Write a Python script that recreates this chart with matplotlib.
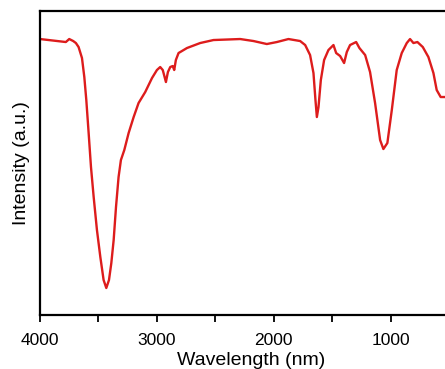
import numpy as np
import matplotlib.pyplot as plt

plt.rcParams['font.family'] = ['Liberation Sans', 'DejaVu Sans']

# spectrum (wavenumber, relative intensity)
wavenumber = [4000, 3779, 3750, 3716, 3693, 3670, 3641, 3621, 3604, 3584,
              3564, 3541, 3513, 3484, 3456, 3433, 3410, 3390, 3370, 3350,
              3328, 3308, 3279, 3242, 3199, 3157, 3100, 3042, 3000, 2972,
              2950, 2923, 2906, 2886, 2865, 2852, 2838, 2815, 2743, 2630,
              2516, 2288, 2174, 2060, 1974, 1875, 1775, 1732, 1690, 1661,
              1644, 1632, 1618, 1598, 1570, 1533, 1490, 1467, 1433, 1399,
              1376, 1348, 1296, 1268, 1219, 1177, 1134, 1091, 1063, 1029,
              991, 949, 906, 863, 835, 806, 772, 726, 678, 635,
              607, 573, 536]
intensity = [276, 273, 276, 274, 272, 268, 257, 238, 215, 182,
             148, 118, 85, 58, 35, 27, 35, 52, 75, 108,
             138, 155, 165, 182, 198, 212, 223, 237, 245, 248,
             245, 233, 243, 248, 249, 245, 255, 262, 267, 272,
             275, 276, 274, 271, 273, 276, 274, 270, 260, 242,
             215, 198, 208, 235, 255, 265, 270, 262, 259, 252,
             263, 270, 273, 267, 260, 243, 212, 175, 166, 172,
             205, 245, 262, 272, 276, 272, 273, 268, 258, 242,
             225, 218, 218]

xticks = [4000, 3000, 2000, 1000]
minor_xticks = [3500, 2500, 1500]

fig = plt.figure(figsize=(4.45, 3.69), dpi=100)
ax = fig.add_axes([0.0899, 0.1463, 0.9101, 0.8238])

ax.plot(wavenumber, intensity, color='#dd1c1c', linewidth=1.7)

ax.set_xlim(4000, 536)
ax.set_ylim(0, 304)
ax.set_xticks(xticks)
ax.set_xticks(minor_xticks, minor=True)
ax.set_xticklabels([str(t) for t in xticks], fontsize=12.5)
ax.set_yticks([])
ax.tick_params(axis='x', which='both', direction='out', length=5, width=1.3, pad=8)

for side in ['left', 'bottom', 'top']:
    ax.spines[side].set_linewidth(1.6)
ax.spines['right'].set_visible(False)

ax.set_xlabel('Wavelength (nm)', fontsize=14, labelpad=3)
ax.xaxis.label.set_x(0.521)
ax.set_ylabel('Intensity (a.u.)', fontsize=14, labelpad=7)

fig.savefig('out.png', dpi=100)
